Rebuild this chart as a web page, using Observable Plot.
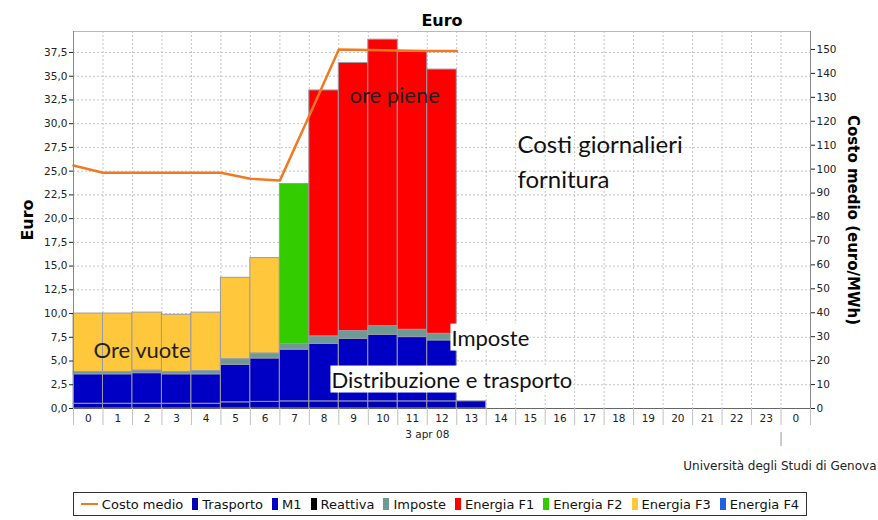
<!DOCTYPE html>
<html>
<head>
<meta charset="utf-8">
<script src="https://cdn.jsdelivr.net/npm/d3@7"></script>
<script src="https://cdn.jsdelivr.net/npm/@observablehq/plot@0.6"></script>
<style>
  body { margin: 0; background: white; }
  #legend { margin-left: 73px; width: 732px; height: 22px; border: 1px solid #333; margin-top: 6px;
    display: flex; align-items: center; justify-content: center; gap: 9px;
    font: 13px "DejaVu Sans", sans-serif; color: #111; box-sizing: content-box; }
  #legend .item { display: flex; align-items: center; gap: 4px; white-space: nowrap; }
  #legend .sw { display: inline-block; width: 6px; height: 12px; }
  #legend .ln { display: inline-block; width: 17px; height: 2px; background: #f07a22; }
</style>
</head>
<body>
<div id="chart"></div>
<div id="legend"></div>
<script>
// ---- data ----
const xLabels = ["0","1","2","3","4","5","6","7","8","9","10","11","12","13","14","15","16","17","18","19","20","21","22","23","0"];
const dateLabel = "3 apr 08";
const seriesNames = ["Trasporto","M1","Reattiva","Imposte","Energia F1","Energia F2","Energia F3","Energia F4"];
const seriesColors = ["#0000b4","#0000c4","#000000","#6e9a94","#ff0000","#33cc00","#ffc83c","#1f5fe0"];
// hourly values (euro), hours 0..13
const trasporto = [0.5,0.5,0.5,0.5,0.5,0.65,0.7,0.75,0.75,0.75,0.75,0.75,0.75,0.75];
const m1        = [3.1,3.1,3.22,3.1,3.1,3.95,4.57,5.45,6.05,6.59,7.01,6.77,6.42,0];
const reattiva  = [0,0,0,0,0,0,0,0,0,0,0,0,0,0];
const imposte   = [0.25,0.25,0.28,0.25,0.35,0.6,0.53,0.6,0.8,0.81,0.92,0.77,0.7,0];
const energiaF1 = [0,0,0,0,0,0,0,0,25.9,28.25,30.17,29.26,27.83,0];
const energiaF2 = [0,0,0,0,0,0,0,16.85,0,0,0,0,0,0];
const energiaF3 = [6.15,6.15,6.1,6.02,6.15,8.57,10.04,0,0,0,0,0,0,0];
const energiaF4 = [0,0,0,0,0,0,0,0,0,0,0,0,0,0];
// Costo medio (euro/MWh), at hour starts 0..13
const costoMedio = [101.5,98.5,98.5,98.5,98.5,98.5,96.0,95.2,122.4,150.0,149.8,149.6,149.4,149.3];
const euroTicks = [0,2.5,5,7.5,10,12.5,15,17.5,20,22.5,25,27.5,30,32.5,35,37.5];
const costoTicks = [0,10,20,30,40,50,60,70,80,90,100,110,120,130,140,150];

// ---- build ----
const seriesValues = [trasporto, m1, reattiva, imposte, energiaF1, energiaF2, energiaF3, energiaF4];
const rows = [];
for (let h = 0; h < trasporto.length; h++) {
  let cum = 0;
  seriesNames.forEach((s, k) => {
    const v = seriesValues[k][h];
    if (v > 0) rows.push({h, s, y1: cum, y2: cum + v});
    cum += v;
  });
}
const k = 37.82 / 150; // euro-axis units per Costo medio unit
const fmt = d => d.toFixed(1).replace(".", ",");
const grid = {stroke: "#c4c4c4", strokeOpacity: 1, strokeDasharray: "2,2"};
const annFont = "Lato, 'Open Sans', sans-serif";

const chart = Plot.plot({
  width: 878, height: 486,
  marginLeft: 73, marginRight: 68, marginTop: 31, marginBottom: 78,
  x: {type: "linear", domain: [0, 25], axis: null},
  y: {domain: [0, 39.71], axis: null},
  color: {domain: seriesNames, range: seriesColors},
  style: {fontFamily: "'DejaVu Sans', sans-serif", fontSize: "10.5px", background: "white", overflow: "visible", color: "#222"},
  marks: [
    Plot.gridY(euroTicks, grid),
    Plot.gridX(d3.range(0, 26), grid),
    Plot.rect(rows, {x1: "h", x2: d => d.h + 1, y1: "y1", y2: "y2", fill: "s", stroke: "#9a9aa8", strokeWidth: 1}),
    Plot.line(costoMedio, {x: (d, i) => i, y: d => d * k, stroke: "#f07a22", strokeWidth: 2.5}),
    Plot.frame({stroke: "#b8b8b8"}),
    Plot.ruleX([0, 25], {stroke: "#888"}),
    Plot.ruleY([0], {stroke: "#666"}),
    Plot.axisY(euroTicks, {anchor: "left", tickSize: 4, tickPadding: 2, tickFormat: fmt, label: null}),
    Plot.axisY(costoTicks.map(v => v * k), {anchor: "right", tickSize: 4, tickPadding: 2, tickFormat: d => String(Math.round(d / k)), label: null}),
    Plot.axisX(d3.range(0, 26), {anchor: "bottom", tickSize: 17, tickFormat: () => "", stroke: "#c0c0c0", label: null}),
    Plot.axisX(d3.range(25).map(i => i + 0.5), {anchor: "bottom", tickSize: 0, tickPadding: 6, tickFormat: d => xLabels[Math.floor(d)], label: null}),
    Plot.text([dateLabel], {x: () => 12, text: d => d, frameAnchor: "bottom", dy: 29}),
    Plot.axisX([24], {anchor: "bottom", tickSize: 14, dy: 24, tickFormat: () => "", stroke: "#999", label: null}),
    Plot.text(["Euro"], {frameAnchor: "top", dy: -17, fontSize: 16, fontWeight: "bold", fill: "#000"}),
    Plot.text(["Euro"], {frameAnchor: "left", textAnchor: "middle", dx: -46, rotate: -90, fontSize: 16, fontWeight: "bold", fill: "#000"}),
    Plot.text(["Costo medio (euro/MWh)"], {frameAnchor: "right", textAnchor: "middle", dx: 42, rotate: 90, fontSize: 15, fontWeight: "bold", fill: "#000"}),
    Plot.text(["Università degli Studi di Genova"], {frameAnchor: "bottom-right", dx: 66, dy: 61, textAnchor: "end", fontSize: 12, fill: "#222"}),
    // annotations
    Plot.text(["Ore vuote"], {x: () => 0.68, y: () => 6.1, textAnchor: "start", fontSize: 22, fontFamily: annFont, fill: "#222"}),
    Plot.text(["ore piene"], {x: () => 9.36, y: () => 32.97, textAnchor: "start", fontSize: 22, fontFamily: annFont, fill: "#222"}),
    Plot.text(["Costi giornalieri\nfornitura"], {x: () => 15.06, y: () => 26.2, textAnchor: "start", fontSize: 24, lineHeight: 1.46, fontFamily: annFont, fill: "#111"}),
    Plot.text(["Imposte"], {x: () => 12.82, y: () => 7.37, textAnchor: "start", fontSize: 22, fontFamily: annFont, fill: "#111", className: "boxed"}),
    Plot.text(["Distribuzione e trasporto"], {x: () => 8.75, y: () => 2.95, textAnchor: "start", fontSize: 22, fontFamily: annFont, fill: "#111", className: "boxed"})
  ]
});
document.getElementById("chart").appendChild(chart);

// white boxes behind boxed annotations
chart.querySelectorAll("g.boxed text").forEach(t => {
  const b = t.getBBox();
  const r = document.createElementNS("http://www.w3.org/2000/svg", "rect");
  r.setAttribute("x", b.x - 1); r.setAttribute("y", b.y);
  r.setAttribute("width", b.width + 2); r.setAttribute("height", b.height);
  r.setAttribute("fill", "white");
  const tr = t.getAttribute("transform");
  if (tr) r.setAttribute("transform", tr);
  t.parentNode.insertBefore(r, t);
});

// legend
const legend = document.getElementById("legend");
legend.innerHTML = `<span class="item"><span class="ln"></span>Costo medio</span>` +
  seriesNames.map((s, i) => `<span class="item"><span class="sw" style="background:${seriesColors[i]}"></span>${s}</span>`).join("");
</script>
</body>
</html>
